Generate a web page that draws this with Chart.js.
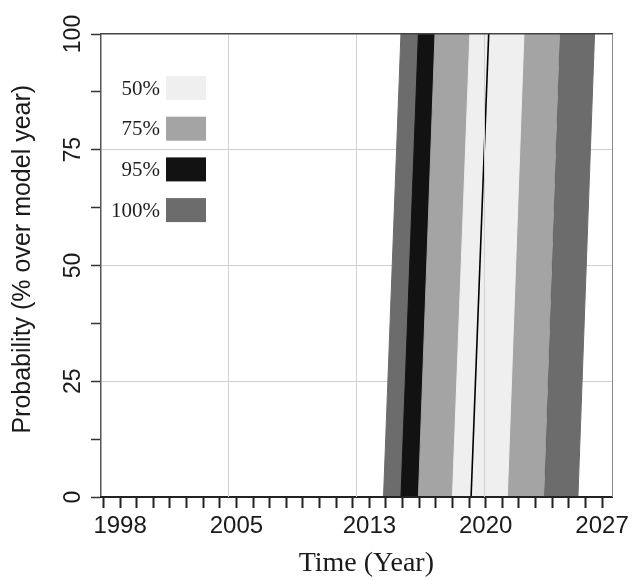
<!DOCTYPE html>
<html>
<head>
<meta charset="utf-8">
<script src="https://cdn.jsdelivr.net/npm/chart.js@4"></script>
<style>
  html, body { margin: 0; padding: 0; background: #ffffff; }
  #wrap { width: 638px; height: 580px; }
</style>
</head>
<body>
<div id="wrap"><canvas id="c" width="638" height="580"></canvas></div>
<script>
// ---- data (years, probability in %) ----
const levels     = ['50%', '75%', '95%', '100%'];
const levelColors = ['#efefef', '#a4a4a4', '#121212', '#6c6c6c'];
// band edges at probability 0 % and at 100 % (bands lean one year to the right)
const lowAt0    = [2018.0, 2015.95, 2014.9, 2013.85];
const highAt0   = [2021.3, 2023.5, 2023.5, 2025.55];
const lowAt100  = [2019.05, 2016.95, 2015.95, 2014.9];
const highAt100 = [2022.3, 2024.45, 2024.45, 2026.55];
// model-year (median) line: year at 0 % and at 100 %
const medianYears = [2019.12, 2020.18];
const probRange   = [0, 100];
// axis labels
const xTickLabels = [1998, 2005, 2013, 2020, 2027];
const yTickLabels = [0, 25, 50, 75, 100];

// ---- datasets ----
const bandSets = levels.map((lab, i) => ({
  label: lab,
  data: [
    {x: lowAt0[i],    y: probRange[0]},
    {x: lowAt100[i],  y: probRange[1]},
    {x: highAt100[i], y: probRange[1]},
    {x: highAt0[i],   y: probRange[0]}
  ],
  backgroundColor: levelColors[i],
  borderColor: levelColors[i],
  borderWidth: 1,
  pointRadius: 0,
  fill: 'shape',
  tension: 0
}));
const medianSet = {
  label: 'median',
  data: [{x: medianYears[0], y: probRange[0]}, {x: medianYears[1], y: probRange[1]}],
  borderColor: '#000000',
  borderWidth: 1.6,
  pointRadius: 0,
  fill: false
};

const legendPlugin = {
  id: 'bandLegend',
  afterDatasetsDraw(chart) {
    const ctx = chart.ctx;
    const a = chart.chartArea;
    ctx.save();
    levels.forEach((lab, i) => {
      const cy = a.top + 54 + i * 40.7;
      ctx.fillStyle = levelColors[i];
      ctx.fillRect(a.left + 65, cy - 12, 40, 24);
      ctx.fillStyle = '#1e1e1e';
      ctx.font = '21px "Liberation Serif", "Times New Roman", serif';
      ctx.textAlign = 'right';
      ctx.textBaseline = 'middle';
      ctx.fillText(lab, a.left + 59, cy + 1);
    });
    ctx.restore();
  }
};

new Chart(document.getElementById('c'), {
  type: 'line',
  data: { datasets: [medianSet, ...bandSets] },
  options: {
    responsive: false,
    animation: false,
    devicePixelRatio: 1,
    layout: { padding: { left: 0, top: 34, right: 26, bottom: 0 } },
    plugins: { legend: { display: false }, tooltip: { enabled: false } },
    scales: {
      x: {
        type: 'linear',
        position: 'bottom',
        min: 1996.85,
        max: 2027.6,
        afterBuildTicks: (s) => {
          const t = [];
          for (let y = 1997; y <= 2027; y++) t.push({ value: y });
          s.ticks = t;
        },
        afterFit: (s) => { s.height = 83; },
        ticks: {
          autoSkip: false,
          minRotation: 0,
          maxRotation: 0,
          padding: 4,
          color: '#1a1a1a',
          font: { family: '"Liberation Sans", Arial, sans-serif', size: 24 },
          callback: (v) => xTickLabels.includes(v) ? String(v) : ''
        },
        grid: {
          drawOnChartArea: false,
          tickLength: 11,
          tickWidth: 2,
          tickColor: '#222'
        },
        border: { display: true, color: '#222', width: 2, z: 1 },
        title: {
          display: true,
          text: '\u2002\u2009Time (Year)',
          color: '#1a1a1a',
          font: { family: '"Liberation Serif", "Times New Roman", serif', size: 28, lineHeight: 1 },
          padding: { top: 0, bottom: 2.5 }
        }
      },
      xg: {
        type: 'linear',
        position: 'top',
        min: 0,
        max: 4,
        ticks: { display: false, stepSize: 1 },
        grid: {
          drawTicks: false,
          z: 1,
          lineWidth: 1,
          color: (c) => c.tick.value === 0 ? 'rgba(0,0,0,0)' : (c.tick.value === 4 ? '#8a8a8a' : '#d2d2d2')
        },
        border: { display: true, color: '#444', width: 1.5, z: 1 }
      },
      y: {
        type: 'linear',
        position: 'left',
        min: 0,
        max: 100,
        afterFit: (s) => { s.width = 101; },
        ticks: {
          stepSize: 12.5,
          minRotation: 90,
          maxRotation: 90,
          crossAlign: 'center',
          padding: -2,
          color: '#1a1a1a',
          font: { family: '"Liberation Sans", Arial, sans-serif', size: 23 },
          callback: (v) => yTickLabels.includes(v) ? String(v) : ''
        },
        grid: {
          tickLength: 10,
          tickWidth: 1.5,
          tickColor: '#333',
          lineWidth: 1,
          color: (c) => (c.tick.value > 0 && c.tick.value < 100 && yTickLabels.includes(c.tick.value)) ? '#cfcfcf' : 'rgba(0,0,0,0)'
        },
        border: { display: true, color: '#555', width: 1.5 },
        title: {
          display: true,
          text: '\u2002Probability (% over model year)',
          color: '#1a1a1a',
          font: { family: '"Liberation Sans", Arial, sans-serif', size: 25, lineHeight: 1 },
          padding: { top: 10.5, bottom: 0 }
        }
      }
    }
  },
  plugins: [legendPlugin]
});
</script>
</body>
</html>
